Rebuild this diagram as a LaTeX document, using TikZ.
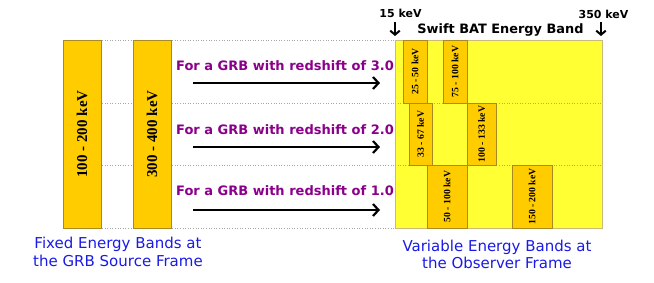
\documentclass[tikz,border=0pt]{standalone}
\usepackage{fontspec}
\setmainfont{DejaVu Sans}
\newfontfamily\bandfont{Liberation Serif}
\usetikzlibrary{arrows.meta}
\definecolor{bandor}{HTML}{FFCC00}
\definecolor{bandedge}{HTML}{A88A20}
\definecolor{swiftyel}{HTML}{FFFF33}
\definecolor{grbpurple}{HTML}{8B008B}
\definecolor{capblue}{HTML}{1A1AE6}
\tikzset{
  bandbox/.style={draw=bandedge, line width=0.6pt, fill=bandor},
  bigband/.style={font=\bandfont\fontsize{15}{15}\selectfont\bfseries, rotate=90},
  smallband/.style={font=\bandfont\fontsize{9.7}{9.7}\selectfont\bfseries, rotate=90},
  rowline/.style={draw=gray!70, dotted, line width=0.6pt},
  grbtext/.style={font=\fontsize{13}{15}\selectfont\bfseries, text=grbpurple, inner sep=0pt},
  shiftarrow/.style={line width=2.8pt, -{Straight Barb[length=5.5pt,width=12pt,line width=2.2pt]}},
  downarrow/.style={line width=2.4pt, -{Straight Barb[length=4pt,width=9.5pt,line width=2pt]}},
  caption/.style={font=\fontsize{15}{17.5}\selectfont, text=capblue, align=center, inner sep=0pt},
  toplabel/.style={font=\fontsize{11}{13}\selectfont\bfseries, inner sep=0pt},
}
\begin{document}
\begin{tikzpicture}[x=1pt,y=-1pt]
\useasboundingbox (0,0) rectangle (654,282);
% dotted row lines
\foreach \yy in {40,103,165,228} \draw[rowline] (63,\yy) -- (602,\yy);
% left fixed bands
\draw[bandbox] (63,40) rectangle (101,228);
\node[bigband] (b1) at (82,134) {100 - 200 keV};
\draw[bandbox] (133,40) rectangle (171,228);
\node[bigband] (b2) at (152,134) {300 - 400 keV};
% yellow Swift region
\draw[fill=swiftyel, draw=bandedge!60, line width=0.5pt] (395,40) rectangle (602,228);
\draw[rowline] (395,103) -- (602,103);
\draw[rowline] (395,165) -- (602,165);
% right variable bands
\draw[bandbox] (403,40) rectangle (427,103);
\node[smallband] (r1a) at (415,71.5) {25 - 50 keV};
\draw[bandbox] (443,40) rectangle (467,103);
\node[smallband] (r1b) at (455,71.5) {75 - 100 keV};
\draw[bandbox] (409,103) rectangle (432,165);
\node[smallband] (r2a) at (420.5,134) {33 - 67 keV};
\draw[bandbox] (467,103) rectangle (496,165);
\node[smallband] (r2b) at (481.5,134) {100 - 133 keV};
\draw[bandbox] (427,165) rectangle (467,228);
\node[smallband] (r3a) at (447,196.5) {50 - 100 keV};
\draw[bandbox] (512,165) rectangle (552,228);
\node[smallband] (r3b) at (532,196.5) {150 - 200 keV};
% redshift labels and arrows
\node[grbtext, anchor=east] (t3) at (394,66) {For a GRB with redshift of 3.0};
\node[grbtext, anchor=east] (t2) at (394,130) {For a GRB with redshift of 2.0};
\node[grbtext, anchor=east] (t1) at (394,191) {For a GRB with redshift of 1.0};
\coordinate (a3s) at (193,83); \coordinate (a3e) at (380,83);
\coordinate (a2s) at (193,147); \coordinate (a2e) at (380,147);
\coordinate (a1s) at (193,210); \coordinate (a1e) at (380,210);
\draw[shiftarrow] (a3s) -- (a3e);
\draw[shiftarrow] (a2s) -- (a2e);
\draw[shiftarrow] (a1s) -- (a1e);
% top labels
\node[toplabel] (k15) at (400.5,13) {15 keV};
\node[toplabel] (k350) at (603.5,14) {350 keV};
\node[toplabel, font=\fontsize{12.9}{15}\selectfont\bfseries] (bat) at (500.5,30) {Swift BAT Energy Band};
\coordinate (d15s) at (395,22); \coordinate (d15e) at (395,36);
\coordinate (d350s) at (601,22); \coordinate (d350e) at (601,36);
\draw[downarrow] (d15s) -- (d15e);
\draw[downarrow] (d350s) -- (d350e);
% captions
\node[caption] (capl) at (118,252) {Fixed Energy Bands at\\the GRB Source Frame};
\node[caption] (capr) at (497,254.5) {Variable Energy Bands at\\the Observer Frame};
\end{tikzpicture}
\end{document}
